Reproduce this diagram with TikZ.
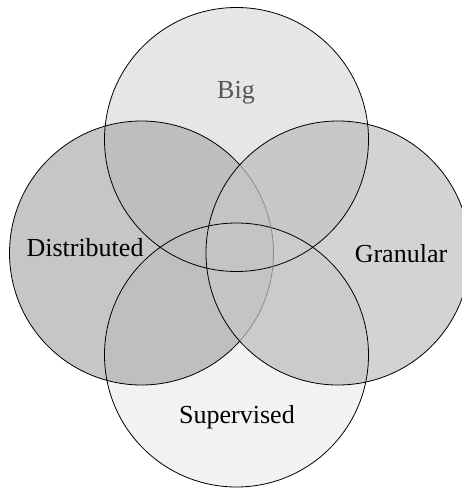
\documentclass[tikz,border=0pt]{standalone}
\usepackage{fontspec}
\setmainfont{Liberation Serif}
\definecolor{fBig}{HTML}{E6E6E6}
\definecolor{fSup}{HTML}{F2F2F2}
\definecolor{fDis}{HTML}{C6C6C6}
\definecolor{fGra}{HTML}{D3D3D3}
\definecolor{fBD}{HTML}{BEBEBE}
\definecolor{fBG}{HTML}{C8C8C8}
\definecolor{fSD}{HTML}{BFBFBF}
\definecolor{fSG}{HTML}{CBCBCB}
\definecolor{fDG}{HTML}{C4C4C4}
\definecolor{txtBig}{HTML}{555555}
\begin{document}
\begin{tikzpicture}[x=1pt,y=1pt,
  lbl/.style={font=\fontsize{26}{30}\selectfont, inner sep=0pt, anchor=base},
  ring/.style={draw=black, line width=0.8pt},
  faintring/.style={draw=black!45, line width=0.8pt}]
\useasboundingbox (0,0) rectangle (461,-489);
\def\R{132}
\coordinate (cB) at (236.5,-139.5);
\coordinate (cD) at (141.5,-253);
\coordinate (cG) at (338,-253);
\coordinate (cS) at (236.5,-355);
% single fills
\fill[fSup] (cS) circle (\R);
\fill[fBig] (cB) circle (\R);
\fill[fDis] (cD) circle (\R);
\fill[fGra] (cG) circle (\R);
% pairwise overlaps
\begin{scope}\clip (cB) circle (\R); \fill[fBD] (cD) circle (\R); \end{scope}
\begin{scope}\clip (cS) circle (\R); \fill[fSD] (cD) circle (\R); \end{scope}
\begin{scope}\clip (cB) circle (\R); \fill[fBG] (cG) circle (\R); \end{scope}
\begin{scope}\clip (cS) circle (\R); \fill[fSG] (cG) circle (\R); \end{scope}
\begin{scope}\clip (cD) circle (\R); \fill[fDG] (cG) circle (\R); \end{scope}
% outlines
\draw[ring] (cB) circle (\R);
\draw[ring] (cS) circle (\R);
\draw[ring] (cG) circle (\R);
\draw[ring] (cD) ++(41.9:\R) arc[start angle=41.9, end angle=318.1, radius=\R];
\draw[faintring] (cD) ++(-41.9:\R) arc[start angle=-41.9, end angle=41.9, radius=\R];
% labels
\node[lbl, text=txtBig] (tBig) at (236,-99) {Big};
\node[lbl] (tDis) at (85,-256) {Distributed};
\node[lbl] (tGra) at (401,-262) {Granular};
\node[lbl] (tSup) at (237,-423) {Supervised};
\end{tikzpicture}
\end{document}
